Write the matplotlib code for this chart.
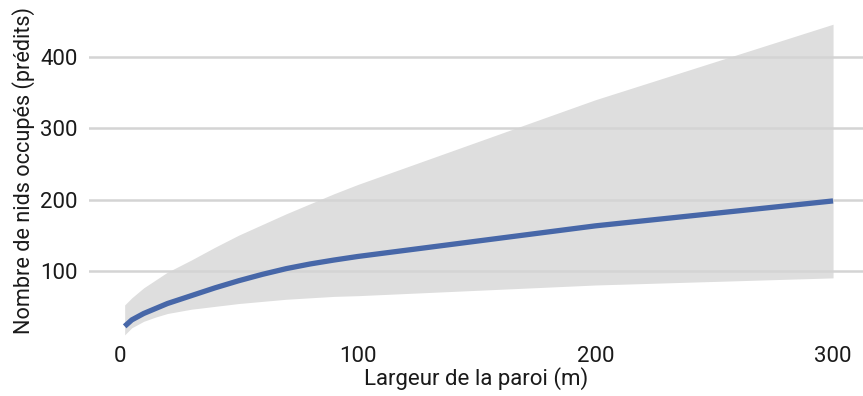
import numpy as np
import matplotlib.pyplot as plt

# wall width (m) and predicted occupied nests
largeur = [2, 5, 10, 15, 20, 30, 40, 50, 60, 70, 80, 90, 100, 200, 300]
nids = [22, 31, 40, 47, 54, 65, 76, 86, 95, 103, 109.5, 115, 120, 163, 198]
nids_bas = [10, 20, 29, 35, 40, 46, 50, 54, 57, 60, 62, 64, 65, 80, 90]
nids_haut = [52, 62, 76, 87, 98, 115, 133, 150, 165, 180, 194, 208, 221, 340, 446]

plt.rcParams['font.family'] = ['Roboto', 'DejaVu Sans']

fig = plt.figure(figsize=(8.63, 3.96), dpi=100)
ax = fig.add_axes([89 / 863, 1 - 342 / 396, (863 - 89) / 863, 342 / 396])

ax.fill_between(largeur, nids_bas, nids_haut, color='#dedede', linewidth=0, zorder=1)
ax.plot(largeur, nids, color='#4767a8', linewidth=3.8, solid_capstyle='butt', zorder=2)

ax.set_xlim(-13, 312.6)
ax.set_ylim(0, 480)
ax.set_xticks([0, 100, 200, 300])
ax.set_yticks([100, 200, 300, 400])
ax.grid(axis='y', color='#d4d4d4', linewidth=1.8)
ax.grid(axis='x', visible=False)
for s in ax.spines.values():
    s.set_visible(False)
ax.tick_params(axis='both', length=0, labelsize=16, colors='#1a1a1a')
ax.tick_params(axis='y', pad=8)
ax.tick_params(axis='x', pad=3)

ax.set_xlabel('Largeur de la paroi (m)', fontsize=16, color='#1a1a1a', labelpad=0)
ax.set_ylabel('Nombre de nids occupés (prédits)', fontsize=15.6, color='#1a1a1a', labelpad=4)

fig.savefig('out.png', dpi=100)
